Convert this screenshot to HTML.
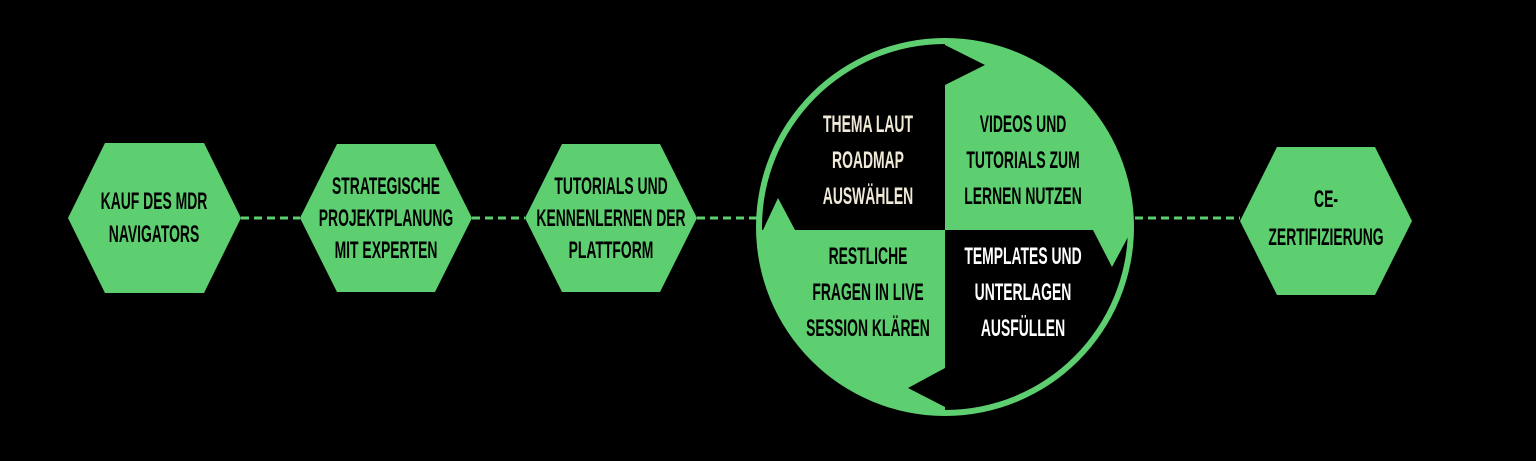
<!DOCTYPE html>
<html><head><meta charset="utf-8"><style>
html,body{margin:0;padding:0;background:#000;}
svg{display:block}
text{font-family:"Liberation Sans","DejaVu Sans",sans-serif;font-weight:bold;font-size:24px;text-anchor:middle;}
</style></head><body>
<svg width="1536" height="461" viewBox="0 0 1536 461" xmlns="http://www.w3.org/2000/svg">
<rect width="1536" height="461" fill="#000"/>
<g stroke="#5ecf70" stroke-width="3" stroke-dasharray="8,5">
<line x1="241" y1="218" x2="300" y2="218"/>
<line x1="472" y1="218" x2="525" y2="218"/>
<line x1="697" y1="218" x2="757" y2="218"/>
<line x1="1135" y1="218" x2="1240" y2="218"/>
</g>
<g fill="#5ecf70">
<polygon points="68,218 105,143 204,143 241,218 204,293 105,293"/>
<polygon points="300,218 337,144 435,144 472,218 435,292 337,292"/>
<polygon points="525,218 562,144 660,144 697,218 660,292 562,292"/>
<polygon points="1240,221 1277,147 1375,147 1412,221 1375,295 1277,295"/>
</g>
<g fill="#000">
<g transform="translate(154,0) scale(0.58,1)"><text x="0" y="209">KAUF DES MDR</text><text x="0" y="242">NAVIGATORS</text></g>
<g transform="translate(386,0) scale(0.58,1)"><text x="0" y="194">STRATEGISCHE</text><text x="0" y="226">PROJEKTPLANUNG</text><text x="0" y="258">MIT EXPERTEN</text></g>
<g transform="translate(611,0) scale(0.58,1)"><text x="0" y="194">TUTORIALS UND</text><text x="0" y="226">KENNENLERNEN DER</text><text x="0" y="258">PLATTFORM</text></g>
<g transform="translate(1326,0) scale(0.58,1)"><text x="0" y="207">CE-</text><text x="0" y="245">ZERTIFIZIERUNG</text></g>
</g>
<defs><clipPath id="c"><circle cx="945" cy="227" r="183"/></clipPath></defs>
<circle cx="945" cy="227" r="189" fill="#5ecf70"/>
<g clip-path="url(#c)" fill="#000">
<polygon points="740,30 945,30 945,230 795,230 778,198 763,230 740,230"/>
<polygon points="945,45 985,65 945,85"/>
<polygon points="945,230 1093,230 1112,267 1128,237 1150,237 1150,430 945,430"/>
<polygon points="945,368 908,388 945,407"/>
</g>
<g transform="translate(868,0) scale(0.58,1)">
<text x="0" y="132" fill="#f0ead8">THEMA LAUT</text>
<text x="0" y="168" fill="#f0ead8">ROADMAP</text>
<text x="0" y="204" fill="#f0ead8">AUSWÄHLEN</text>
<text x="0" y="264" fill="#000">RESTLICHE</text>
<text x="0" y="300" fill="#000">FRAGEN IN LIVE</text>
<text x="0" y="336" fill="#000">SESSION KLÄREN</text>
</g>
<g transform="translate(1023,0) scale(0.58,1)">
<text x="0" y="132" fill="#000">VIDEOS UND</text>
<text x="0" y="168" fill="#000">TUTORIALS ZUM</text>
<text x="0" y="204" fill="#000">LERNEN NUTZEN</text>
<text x="0" y="264" fill="#fff">TEMPLATES UND</text>
<text x="0" y="300" fill="#fff">UNTERLAGEN</text>
<text x="0" y="336" fill="#fff">AUSFÜLLEN</text>
</g>
</svg>
</body></html>
